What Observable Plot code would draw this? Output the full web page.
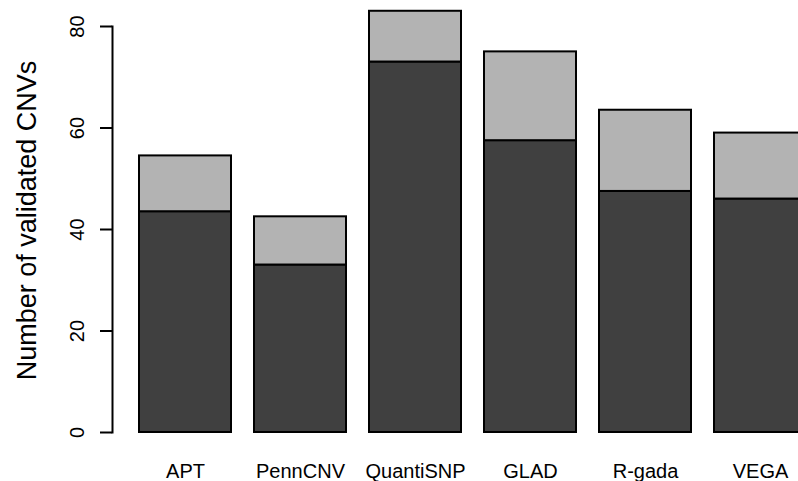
<!DOCTYPE html>
<html>
<head>
<meta charset="utf-8">
<script src="https://cdn.jsdelivr.net/npm/d3@7"></script>
<script src="https://cdn.jsdelivr.net/npm/@observablehq/plot@0.6"></script>
<style>
  html, body { margin: 0; padding: 0; background: white; overflow: hidden; }
</style>
</head>
<body>
<div id="chart"></div>
<script>
const methods = ["APT", "PennCNV", "QuantiSNP", "GLAD", "R-gada", "VEGA"];
const lowerCounts = [43.5, 33, 73, 57.5, 47.5, 46];
const upperCounts = [11, 9.5, 10, 17.5, 16, 13];
const seriesNames = ["lower", "upper"];
const seriesColors = ["#404040", "#b3b3b3"];
const yTicks = [0, 20, 40, 60, 80];
const yTitle = "Number of validated CNVs";

const data = methods.flatMap((m, i) => [
  {method: m, series: seriesNames[0], value: lowerCounts[i]},
  {method: m, series: seriesNames[1], value: upperCounts[i]}
]);

const chart = Plot.plot({
  width: 798,
  height: 481,
  marginLeft: 112,
  marginRight: 0,
  marginTop: 26,
  marginBottom: 49,
  style: {fontFamily: "'Liberation Sans', Arial, sans-serif", background: "white", overflow: "hidden", color: "black"},
  x: {domain: methods, range: [127.5, 817.5], paddingInner: 0.2, paddingOuter: 0.1, label: null, axis: null},
  y: {domain: [0, 80], label: null, axis: null},
  color: {domain: seriesNames, range: seriesColors},
  marks: [
    Plot.barY(data, {x: "method", y: "value", fill: "series", stroke: "black", strokeWidth: 2}),
    Plot.axisX({tickSize: 0, tickPadding: 31, fontSize: 20, label: null}),
    Plot.frame({anchor: "left", strokeWidth: 2}),
    Plot.axisY({ticks: yTicks, tickSize: 12, tickFormat: () => "", label: null, strokeWidth: 2}),
    Plot.text(yTicks, {y: d => d, text: d => String(d), frameAnchor: "left", textAnchor: "middle", dx: -29, rotate: -90, lineAnchor: "bottom", fontSize: 20}),
    Plot.text([yTitle], {text: d => d, frameAnchor: "left", textAnchor: "middle", dx: -77, dy: -9, rotate: -90, lineAnchor: "bottom", fontSize: 27})
  ]
});
document.getElementById("chart").appendChild(chart);
</script>
</body>
</html>
